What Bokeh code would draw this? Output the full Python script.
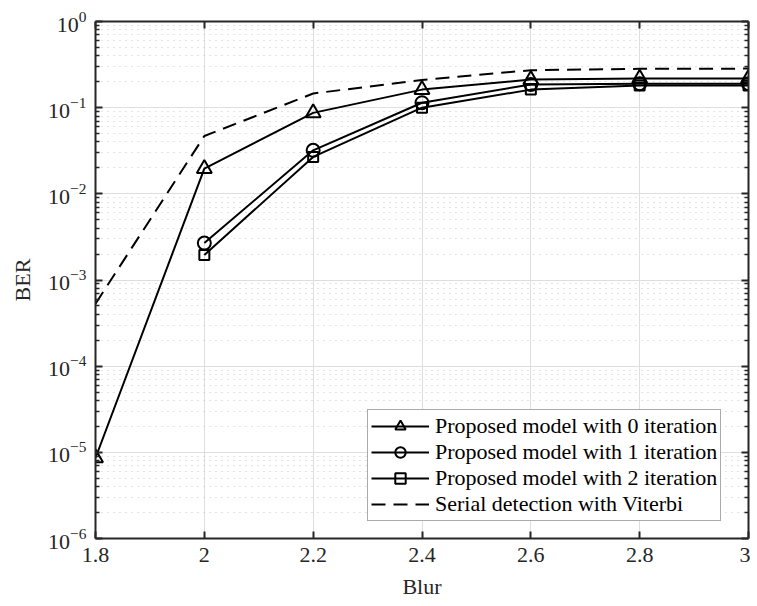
import numpy as np
from bokeh.plotting import figure
from bokeh.models import (LinearAxis, LogAxis, FixedTicker, Legend, LegendItem,
                          Range1d, CustomJSTickFormatter)
from bokeh.embed import file_html
from bokeh.resources import INLINE

# ---- data ----
blur = [1.8, 2.0, 2.2, 2.4, 2.6, 2.8, 3.0]
ber_iter0 = [8.6e-6, 0.0196, 0.087, 0.162, 0.212, 0.218, 0.218]
blur_iter = [2.0, 2.2, 2.4, 2.6, 2.8, 3.0]
ber_iter1 = [0.00268, 0.032, 0.114, 0.186, 0.19, 0.19]
ber_iter2 = [0.00195, 0.0268, 0.100, 0.162, 0.181, 0.181]
ber_viterbi = [5.3e-4, 0.0469, 0.146, 0.21, 0.272, 0.282, 0.284]

labels = ["Proposed model with 0 iteration",
          "Proposed model with 1 iteration",
          "Proposed model with 2 iteration",
          "Serial detection with Viterbi"]
x_ticks = [1.8, 2.0, 2.2, 2.4, 2.6, 2.8, 3.0]
y_major = [10.0 ** e for e in range(-6, 1)]
y_minor = [k * 10.0 ** e for e in range(-6, 0) for k in range(2, 10)]

FONT = "Liberation Serif"
AX = "#262626"

p = figure(width=750, height=601, output_backend="svg", toolbar_location=None,
           y_axis_type="log", x_range=Range1d(1.8, 3.0), y_range=Range1d(1e-6, 1.0),
           min_border_left=95, min_border_top=21, min_border_right=2,
           min_border_bottom=40, x_axis_label="Blur", y_axis_label="BER")
p.outline_line_color = None
p.background_fill_color = "white"

def style_axis(ax):
    ax.axis_line_color = AX
    ax.axis_line_width = 2
    ax.major_tick_line_color = AX
    ax.minor_tick_line_color = AX
    ax.major_tick_line_width = 2
    ax.minor_tick_line_width = 1.5
    ax.major_tick_in = 7
    ax.major_tick_out = 0
    ax.minor_tick_in = 4
    ax.minor_tick_out = 0
    ax.major_label_text_font = FONT
    ax.major_label_text_color = AX
    ax.major_label_text_font_size = "22px"
    ax.axis_label_text_font = FONT
    ax.axis_label_text_color = AX
    ax.axis_label_text_font_size = "22px"
    ax.axis_label_text_font_style = "normal"

xt = FixedTicker(ticks=x_ticks, minor_ticks=[])
yt = FixedTicker(ticks=y_major, minor_ticks=y_minor)

for ax in p.xaxis:
    ax.ticker = xt
    style_axis(ax)
    ax.major_label_standoff = 9
    ax.axis_label_standoff = 9
for ax in p.yaxis:
    ax.ticker = yt
    style_axis(ax)
    ax.major_label_standoff = 9
    ax.axis_label_standoff = 10

blank = CustomJSTickFormatter(code="return '';")
top = LinearAxis(ticker=xt, formatter=blank)
style_axis(top)
top.major_label_standoff = 0
p.add_layout(top, "above")
right = LogAxis(ticker=yt, formatter=blank)
style_axis(right)
right.major_label_standoff = 0
p.add_layout(right, "right")

p.xgrid.ticker = xt
p.ygrid.ticker = yt
p.xgrid.grid_line_color = "#dedede"
p.ygrid.grid_line_color = "#dedede"
p.xgrid.grid_line_width = 1
p.ygrid.grid_line_width = 1
p.ygrid.minor_grid_line_color = "#c8c8c8"
p.ygrid.minor_grid_line_dash = "1 5"
p.ygrid.minor_grid_line_width = 1

LW = 2
r0 = p.line(blur, ber_iter0, line_color="black", line_width=LW)
m0 = p.scatter(blur, ber_iter0, marker="triangle", size=15, fill_color=None,
               line_color="black", line_width=LW)
r1 = p.line(blur_iter, ber_iter1, line_color="black", line_width=LW)
m1 = p.scatter(blur_iter, ber_iter1, marker="circle", size=13, fill_color=None,
               line_color="black", line_width=LW)
r2 = p.line(blur_iter, ber_iter2, line_color="black", line_width=LW)
m2 = p.scatter(blur_iter, ber_iter2, marker="square", size=10, fill_color=None,
               line_color="black", line_width=LW)
r3 = p.line(blur, ber_viterbi, line_color="black", line_width=LW, line_dash="14 8")

legend = Legend(items=[LegendItem(label=labels[0], renderers=[r0, m0]),
                       LegendItem(label=labels[1], renderers=[r1, m1]),
                       LegendItem(label=labels[2], renderers=[r2, m2]),
                       LegendItem(label=labels[3], renderers=[r3])],
                location=(272, 17))
legend.label_text_font = FONT
legend.label_text_font_size = "22px"
legend.label_text_color = "black"
legend.glyph_width = 58
legend.glyph_height = 26
legend.label_height = 26
legend.label_standoff = 6
legend.spacing = 0
legend.padding = 3
legend.margin = 0
legend.border_line_color = "#555555"
legend.border_line_width = 1.5
legend.background_fill_color = "white"
legend.background_fill_alpha = 1
p.add_layout(legend, "center")

open("out.html", "w").write(file_html(p, INLINE))
